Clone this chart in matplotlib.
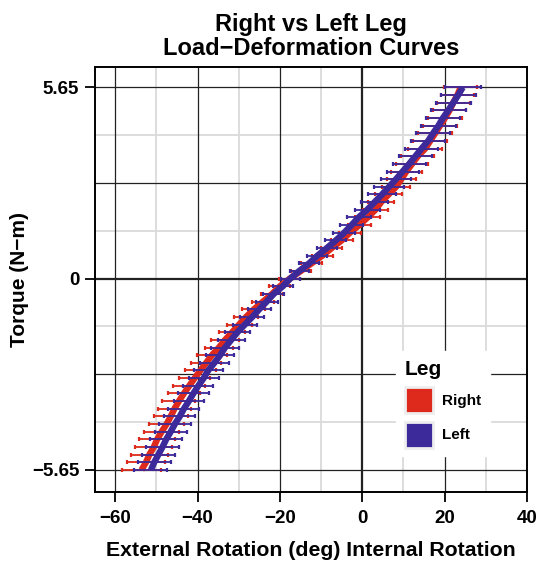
import numpy as np
import matplotlib
matplotlib.use("Agg")
import matplotlib.pyplot as plt
from matplotlib.patches import Patch

plt.rcParams["font.family"] = ["Liberation Sans", "DejaVu Sans"]
plt.rcParams["font.weight"] = "bold"

# torque levels (N-m), 51 steps from -5.65 to 5.65
torque = np.linspace(-5.65, 5.65, 51)

# rotation (deg), bottom to top
right_rot = [-53.6, -52.5, -51.7, -50.6, -49.8, -48.7, -47.5, -46.5, -45.6, -44.5,
             -43.3, -42.0, -40.7, -39.3, -37.9, -36.5, -34.8, -33.3, -31.6, -29.9,
             -28.2, -26.3, -24.1, -21.9, -20.0, -17.6, -14.9, -12.3, -9.7, -7.4,
             -5.0, -3.0, -0.7, 1.3, 3.2, 4.6, 6.4, 8.2, 9.5, 10.7,
             12.1, 13.5, 15.3, 16.5, 17.7, 18.9, 20.1, 21.2, 22.1, 23.1, 23.9]
right_err = [4.7, 4.65, 4.55, 4.5, 4.4, 4.3, 4.25, 4.15, 4.1, 4.0,
             3.9, 3.85, 3.75, 3.7, 3.6, 3.55, 3.5, 3.35, 3.2, 3.05,
             2.9, 2.8, 2.7, 2.6, 2.55, 2.5, 2.5, 2.5, 2.55, 2.6,
             2.65, 2.75, 2.85, 2.95, 3.05, 3.15, 3.3, 3.45, 3.55, 3.7,
             3.85, 4.0, 4.1, 4.1, 4.1, 4.05, 4.05, 4.05, 4.05, 4.0, 4.0]

left_rot = [-51.3, -50.5, -49.5, -48.5, -47.6, -46.5, -45.5, -44.3, -43.3, -42.1,
            -41.0, -39.8, -38.5, -37.4, -35.9, -34.5, -33.3, -31.8, -30.3, -28.5,
            -26.7, -25.0, -23.2, -21.5, -19.3, -17.5, -15.3, -12.9, -10.9, -8.6,
            -6.4, -4.4, -2.6, -0.9, 1.2, 3.0, 4.8, 6.5, 8.2, 9.8,
            11.4, 12.9, 14.4, 16.0, 17.2, 18.5, 19.6, 20.9, 22.1, 23.3, 24.4]
left_err = [4.0, 4.0, 3.95, 3.9, 3.9, 3.85, 3.8, 3.8, 3.75, 3.7,
            3.7, 3.65, 3.6, 3.5, 3.45, 3.4, 3.35, 3.25, 3.1, 3.0,
            2.9, 2.8, 2.65, 2.5, 2.4, 2.3, 2.35, 2.4, 2.45, 2.5,
            2.55, 2.65, 2.8, 2.9, 3.0, 3.2, 3.4, 3.55, 3.75, 3.9,
            4.0, 4.05, 4.1, 4.1, 4.1, 4.15, 4.15, 4.2, 4.2, 4.3, 4.4]

legs = ["Right", "Left"]
colors = ["#DE2A1C", "#3C2A9A"]

x_major = [-60, -40, -20, 0, 20, 40]
x_minor = [-50, -30, -10, 10, 30]
y_ticks = [-5.65, 0, 5.65]
y_major = [-5.65, -2.825, 0, 2.825, 5.65]
y_minor = [-4.2375, -1.4125, 1.4125, 4.2375]

fig = plt.figure(figsize=(5.38, 5.64), dpi=100)
ax = fig.add_axes([0.1757, 0.1277, 0.8039, 0.7535])

# grid
for v in x_minor:
    ax.axvline(v, color="#DADADA", lw=1.3, zorder=0)
for v in y_minor:
    ax.axhline(v, color="#DADADA", lw=1.3, zorder=0)
for v in x_major:
    ax.axvline(v, color="#222222", lw=1.6 if v == 0 else 0.9, zorder=0.5)
for v in y_major:
    ax.axhline(v, color="#222222", lw=1.6 if v == 0 else 0.9, zorder=0.5)

# curves with horizontal error bars
for rot, err, col, z in [(right_rot, right_err, colors[0], 2),
                         (left_rot, left_err, colors[1], 4)]:
    ax.plot(rot, torque, color=col, lw=4.6, solid_capstyle="butt", zorder=z)
    ax.errorbar(rot, torque, xerr=err, fmt="none", ecolor=col, elinewidth=1.3,
                capsize=1.6, capthick=1.6, zorder=z + 1)

ax.set_xlim(-65, 40)
ax.set_ylim(-6.3, 6.25)
ax.set_xticks(x_major)
ax.set_yticks(y_ticks)
ax.set_yticklabels(["\u22125.65", "0", "5.65"])
ax.tick_params(axis="both", direction="out", length=7, width=1.3, labelsize=13.5, pad=4)
ax.tick_params(axis="x", pad=6)
for lab in ax.get_xticklabels() + ax.get_yticklabels():
    lab.set_fontweight("bold")
for sp in ax.spines.values():
    sp.set_linewidth(1.4)
    sp.set_color("black")

ax.set_xlabel("External Rotation (deg) Internal Rotation", fontsize=15.3,
              fontweight="bold", labelpad=10)
ax.set_ylabel("Torque (N\u2212m)", fontsize=15, fontweight="bold", labelpad=2)
ax.set_title("Right vs Left Leg\nLoad\u2212Deformation Curves", fontsize=17,
             fontweight="bold", pad=9, linespacing=1.05)

handles = [Patch(facecolor=c, edgecolor="#EEEEEE", lw=2) for c in colors]
leg = ax.legend(handles, legs, title="Leg", loc="upper left",
                bbox_to_anchor=(0.698, 0.331), frameon=True, fancybox=False,
                framealpha=1, edgecolor="white", handlelength=1.85,
                handleheight=2.25, handletextpad=0.6, labelspacing=0.55,
                borderpad=0.55, borderaxespad=0,
                prop={"size": 11, "weight": "bold"},
                title_fontproperties={"size": 15, "weight": "bold"})
leg._legend_box.align = "left"
leg.set_zorder(10)

fig.savefig("out.png", dpi=100)
